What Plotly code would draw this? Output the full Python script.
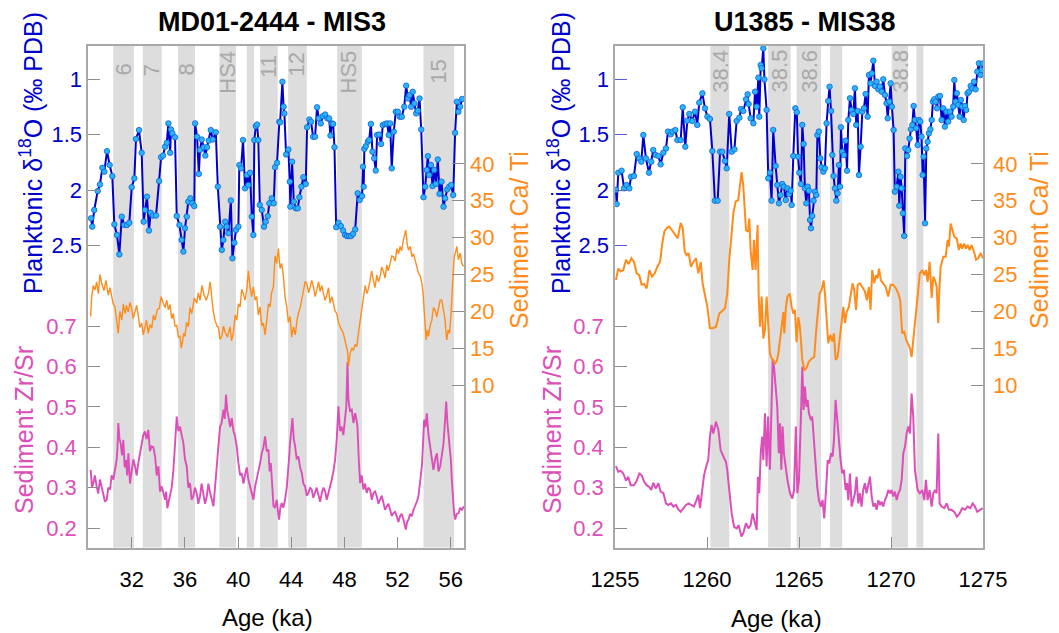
import plotly.graph_objects as go

# ---------------- DATA: MD01-2444 (MIS3) ----------------
L_d18o_age = [28.93,29.02,29.17,29.43,29.6,29.78,29.93,30.13,30.33,30.53,
              30.68,30.88,31.06,31.24,31.43,31.64,31.81,31.99,32.19,32.31,
              32.54,32.74,32.89,32.99,33.14,33.29,33.42,33.59,33.82,34.05,
              34.2,34.35,34.5,34.63,34.75,34.88,34.95,35.05,35.25,35.38,
              35.58,35.75,35.88,36.0,36.13,36.25,36.4,36.55,36.7,36.76,
              36.91,37.04,37.13,37.26,37.41,37.53,37.66,37.79,37.94,38.09,
              38.32,38.47,38.64,38.77,38.89,39.02,39.14,39.27,39.45,39.57,
              39.72,39.84,40.02,40.09,40.22,40.37,40.52,40.65,40.77,40.9,
              41.03,41.15,41.22,41.33,41.43,41.52,41.63,41.78,41.95,42.08,
              42.23,42.35,42.53,42.68,42.78,42.93,43.1,43.16,43.33,43.42,
              43.48,43.61,43.78,43.89,43.93,44.06,44.19,44.34,44.49,44.61,
              44.76,44.91,45.09,45.19,45.36,45.49,45.64,45.79,45.94,46.07,
              46.22,46.37,46.55,46.72,46.85,46.95,47.05,47.15,47.25,47.38,
              47.55,47.73,47.9,48.05,48.2,48.35,48.5,48.65,48.81,49.0,
              49.15,49.33,49.4,49.45,49.5,49.61,49.76,49.86,49.99,50.11,
              50.24,50.36,50.46,50.61,50.76,50.89,51.06,51.21,51.34,51.44,
              51.56,51.71,51.87,52.02,52.17,52.32,52.5,52.65,52.78,52.9,
              53.02,53.14,53.27,53.4,53.52,53.65,53.78,53.95,54.08,54.2,
              54.28,54.38,54.51,54.63,54.76,54.89,55.03,55.16,55.31,55.46,
              55.58,55.73,55.89,56.03,56.19,56.33,56.46,56.58,56.71,56.86]
L_d18o = [2.255,2.33,2.18,2.01,1.95,1.80,1.835,1.65,1.775,1.875,
          2.31,2.405,2.58,2.24,2.315,2.315,2.295,1.975,1.895,1.54,
          1.46,1.665,2.285,2.18,2.06,2.365,2.205,2.23,2.23,1.92,
          1.705,1.69,1.61,1.575,1.40,1.665,1.455,1.49,1.525,2.235,
          2.315,2.45,2.555,2.345,2.24,2.105,2.075,2.12,2.145,1.40,
          1.52,1.855,1.64,1.545,1.615,1.69,1.615,1.555,1.46,1.545,
          1.48,1.97,2.33,2.54,2.45,2.285,2.33,2.39,2.095,2.615,
          2.475,2.36,2.33,1.775,1.805,1.55,1.985,1.865,1.955,1.845,
          2.24,2.405,1.55,1.425,1.41,1.55,2.135,2.18,2.33,2.285,
          2.235,2.12,2.075,2.12,1.795,1.755,1.385,1.39,1.025,1.25,
          1.31,1.68,1.635,1.925,2.15,1.745,2.105,2.165,2.165,2.065,
          1.97,1.885,1.945,1.435,1.365,1.385,1.52,1.52,1.255,1.355,
          1.40,1.335,1.32,1.355,1.355,1.51,1.40,1.405,1.615,2.335,
          2.295,2.325,2.365,2.405,2.415,2.415,2.415,2.395,2.355,2.03,
          2.09,2.055,1.79,1.97,1.63,1.605,1.565,1.55,1.405,1.655,
          1.715,1.825,1.505,1.50,1.585,1.415,1.405,1.40,1.505,1.40,
          1.805,1.475,1.295,1.295,1.34,1.34,1.25,1.06,1.175,1.145,
          1.25,1.115,1.22,1.31,1.285,1.175,1.455,2.065,1.97,1.82,
          1.695,1.865,1.775,1.965,1.82,1.945,1.725,2.035,1.925,2.15,
          2.075,1.995,1.97,1.955,2.045,1.485,1.205,1.295,1.25,1.18]

L_cati_age = [28.90,28.98,29.1,29.23,29.35,29.48,29.6,29.73,29.9,30.06,
              30.15,30.23,30.35,30.48,30.6,30.73,30.85,30.98,31.1,31.24,
              31.36,31.49,31.6,31.73,31.86,31.99,32.1,32.24,32.36,32.49,
              32.6,32.74,32.86,32.99,33.1,33.24,33.37,33.50,33.62,33.75,
              33.9,34.07,34.2,34.37,34.5,34.63,34.75,34.87,35.0,35.12,
              35.25,35.38,35.5,35.63,35.72,35.80,35.9,36.00,36.12,36.25,
              36.38,36.51,36.7,36.89,37.0,37.13,37.28,37.43,37.6,37.76,
              37.9,38.01,38.13,38.26,38.4,38.51,38.64,38.77,38.9,39.02,
              39.2,39.39,39.5,39.64,39.77,39.90,40.02,40.15,40.27,40.39,
              40.52,40.65,40.77,40.90,41.02,41.15,41.28,41.40,41.52,41.65,
              41.78,41.90,42.03,42.16,42.28,42.40,42.52,42.65,42.78,42.91,
              43.03,43.16,43.28,43.41,43.53,43.66,43.78,43.91,44.03,44.16,
              44.3,44.42,44.54,44.66,44.78,44.91,45.04,45.17,45.3,45.42,
              45.54,45.67,45.8,45.92,46.05,46.17,46.3,46.42,46.55,46.67,
              46.8,46.92,47.05,47.17,47.3,47.43,47.55,47.68,47.8,47.92,
              48.05,48.18,48.24,48.30,48.36,48.43,48.55,48.68,48.8,48.93,
              49.05,49.18,49.3,49.43,49.56,49.69,49.8,49.93,50.05,50.18,
              50.3,50.44,50.56,50.69,50.8,50.94,51.06,51.19,51.3,51.44,
              51.56,51.69,51.82,51.95,52.07,52.19,52.3,52.44,52.53,52.62,
              52.72,52.82,52.95,53.08,53.2,53.32,53.45,53.57,53.7,53.83,
              53.92,54.00,54.08,54.15,54.24,54.32,54.45,54.58,54.7,54.83,
              54.95,55.08,55.2,55.33,55.45,55.58,55.65,55.71,55.8,55.91,
              56.0,56.09,56.18,56.26,56.36,56.46,56.58,56.71,56.84,56.96]
L_cati = [19.3,22.0,23.5,22.9,24.0,22.4,25.0,23.8,22.8,24.2,
          23.0,22.2,23.2,21.8,21.0,20.6,18.5,17.0,20.0,18.8,
          21.0,19.7,20.8,19.9,21.2,20.4,19.0,19.9,20.8,19.3,
          17.8,18.4,16.8,17.9,18.8,17.0,18.2,17.7,19.5,18.8,
          20.2,20.4,22.0,21.1,20.5,21.5,20.2,20.9,19.0,19.7,
          18.0,18.1,16.5,16.6,15.0,15.7,17.0,16.6,18.5,17.9,
          20.5,19.7,21.8,21.1,22.5,21.5,23.5,22.2,21.5,22.4,
          24.0,22.0,20.0,18.8,18.0,17.9,16.2,16.6,18.0,17.2,
          16.5,17.9,16.0,17.0,19.5,18.8,21.0,20.6,23.0,22.4,
          21.5,22.9,25.5,23.3,22.0,23.3,21.5,22.0,19.5,20.6,
          18.0,18.4,16.8,18.8,21.0,20.6,22.5,23.3,27.5,26.5,
          28.5,25.8,26.5,24.7,22.0,20.6,18.5,19.3,16.5,17.9,
          16.8,18.6,19.8,20.4,21.5,22.4,24.0,23.8,22.5,23.3,
          24.2,23.3,22.0,22.9,24.0,22.7,23.5,22.4,21.5,22.2,
          23.2,21.1,22.0,21.1,20.0,19.7,18.5,17.9,17.5,17.0,
          16.0,15.2,14.5,12.5,13.5,14.3,15.0,14.7,15.5,15.2,
          17.0,18.8,20.0,21.5,23.5,22.4,23.0,24.2,25.5,24.2,
          23.2,24.9,24.0,24.7,26.0,25.4,24.5,26.3,25.5,26.5,
          27.5,27.4,26.8,28.5,27.8,28.8,28.2,29.7,30.2,31.0,
          29.2,28.3,28.8,27.4,27.8,27.0,26.0,25.2,24.8,23.8,
          22.5,20.6,18.5,16.1,17.5,16.6,18.0,18.8,20.5,20.2,
          19.2,20.6,21.5,21.5,20.0,18.8,17.0,16.1,17.5,17.0,
          19.0,21.5,24.5,27.4,28.0,28.8,27.0,27.9,26.5,26.1]

L_zrsr_age = [28.90,29.00,29.10,29.22,29.35,29.47,29.60,29.72,29.85,29.98,
              30.11,30.23,30.36,30.48,30.61,30.74,30.86,30.92,30.98,31.07,
              31.16,31.26,31.36,31.46,31.56,31.65,31.74,31.86,31.99,32.11,
              32.24,32.36,32.49,32.61,32.74,32.86,32.99,33.11,33.24,33.36,
              33.49,33.62,33.75,33.87,34.00,34.12,34.25,34.37,34.50,34.58,
              34.67,34.77,34.87,35.00,35.13,35.25,35.38,35.50,35.63,35.75,
              35.88,36.00,36.13,36.25,36.38,36.50,36.63,36.75,36.88,37.00,
              37.13,37.25,37.38,37.51,37.64,37.76,37.89,38.01,38.14,38.26,
              38.39,38.51,38.64,38.76,38.89,38.99,39.09,39.18,39.27,39.40,
              39.52,39.65,39.77,39.90,40.02,40.15,40.27,40.40,40.52,40.65,
              40.77,40.90,41.02,41.15,41.28,41.40,41.53,41.65,41.78,41.90,
              42.03,42.15,42.28,42.37,42.46,42.56,42.66,42.78,42.91,43.00,
              43.08,43.18,43.28,43.40,43.53,43.66,43.79,43.85,43.91,44.00,
              44.09,44.19,44.29,44.41,44.54,44.66,44.79,44.91,45.04,45.16,
              45.29,45.41,45.54,45.66,45.79,45.91,46.04,46.17,46.30,46.42,
              46.55,46.67,46.80,46.92,47.05,47.17,47.30,47.42,47.55,47.67,
              47.80,47.92,48.05,48.14,48.23,48.30,48.42,48.55,48.68,48.81,
              48.90,48.98,49.08,49.18,49.30,49.43,49.55,49.68,49.80,49.93,
              50.06,50.19,50.31,50.44,50.56,50.69,50.81,50.94,51.06,51.19,
              51.31,51.44,51.56,51.69,51.81,51.94,52.06,52.19,52.31,52.44,
              52.53,52.62,52.72,52.82,52.95,53.07,53.20,53.32,53.45,53.57,
              53.70,53.83,53.92,54.00,54.10,54.20,54.33,54.45,54.58,54.70,
              54.83,54.96,55.08,55.21,55.33,55.46,55.56,55.66,55.75,55.83,
              55.92,56.01,56.08,56.16,56.25,56.34,56.46,56.59,56.71,56.84,
              57.00]
L_zrsr = [0.344,0.30,0.311,0.33,0.303,0.285,0.32,0.30,0.287,0.265,
          0.27,0.30,0.295,0.33,0.32,0.35,0.369,0.40,0.46,0.42,
          0.41,0.38,0.418,0.35,0.369,0.33,0.385,0.31,0.336,0.37,
          0.353,0.33,0.361,0.385,0.41,0.43,0.439,0.42,0.443,0.39,
          0.402,0.40,0.377,0.33,0.353,0.29,0.303,0.285,0.27,0.29,
          0.249,0.265,0.278,0.30,0.344,0.40,0.476,0.44,0.451,0.43,
          0.41,0.37,0.353,0.30,0.311,0.27,0.278,0.30,0.287,0.26,
          0.278,0.31,0.287,0.26,0.278,0.31,0.287,0.27,0.254,0.30,
          0.344,0.40,0.451,0.46,0.493,0.47,0.53,0.49,0.476,0.45,
          0.472,0.44,0.427,0.40,0.361,0.33,0.336,0.31,0.332,0.35,
          0.32,0.30,0.287,0.27,0.303,0.32,0.344,0.36,0.385,0.40,
          0.427,0.39,0.394,0.34,0.361,0.30,0.254,0.25,0.27,0.24,
          0.221,0.25,0.262,0.25,0.27,0.30,0.344,0.38,0.41,0.44,
          0.472,0.42,0.402,0.37,0.377,0.35,0.336,0.31,0.303,0.28,
          0.287,0.30,0.295,0.275,0.287,0.30,0.282,0.265,0.287,0.30,
          0.291,0.27,0.287,0.30,0.32,0.34,0.369,0.42,0.501,0.44,
          0.451,0.43,0.468,0.50,0.61,0.517,0.49,0.493,0.46,0.484,
          0.47,0.451,0.37,0.311,0.33,0.295,0.31,0.287,0.30,0.295,
          0.27,0.287,0.29,0.278,0.26,0.27,0.28,0.262,0.245,0.254,
          0.26,0.245,0.23,0.237,0.24,0.229,0.215,0.229,0.235,0.221,
          0.21,0.196,0.215,0.221,0.235,0.229,0.245,0.254,0.265,0.278,
          0.31,0.353,0.41,0.468,0.45,0.484,0.43,0.402,0.36,0.344,
          0.37,0.385,0.34,0.353,0.38,0.41,0.46,0.513,0.46,0.435,
          0.40,0.369,0.32,0.27,0.24,0.221,0.235,0.237,0.25,0.245,
          0.254]

# ---------------- DATA: U1385 (MIS38) ----------------
R_d18o_age = [1255.05,1255.09,1255.18,1255.36,1255.49,1255.63,1255.78,1255.87,1256.03,1256.18,
              1256.32,1256.43,1256.54,1256.68,1256.85,1256.97,1257.08,1257.21,1257.36,1257.48,
              1257.63,1257.77,1257.88,1258.03,1258.13,1258.28,1258.39,1258.57,1258.68,1258.82,
              1258.93,1259.04,1259.2,1259.35,1259.47,1259.58,1259.75,1259.89,1260.02,1260.16,
              1260.29,1260.43,1260.58,1260.71,1260.83,1260.98,1261.07,1261.21,1261.34,1261.49,
              1261.61,1261.76,1261.85,1261.97,1262.12,1262.21,1262.26,1262.37,1262.52,1262.61,
              1262.7,1262.79,1262.84,1262.92,1262.97,1263.06,1263.12,1263.24,1263.33,1263.42,
              1263.51,1263.6,1263.73,1263.82,1263.91,1264.0,1264.09,1264.18,1264.28,1264.37,
              1264.46,1264.55,1264.6,1264.69,1264.8,1264.88,1264.95,1265.02,1265.11,1265.18,
              1265.25,1265.32,1265.4,1265.47,1265.54,1265.6,1265.65,1265.72,1265.79,1265.87,
              1265.94,1266.0,1266.08,1266.16,1266.23,1266.32,1266.41,1266.5,1266.59,1266.66,
              1266.74,1266.81,1266.88,1266.95,1267.03,1267.1,1267.17,1267.23,1267.28,1267.35,
              1267.44,1267.53,1267.61,1267.68,1267.77,1267.86,1267.95,1268.04,1268.11,1268.19,
              1268.26,1268.35,1268.44,1268.53,1268.62,1268.73,1268.8,1268.89,1268.96,1269.04,
              1269.13,1269.22,1269.31,1269.4,1269.49,1269.58,1269.67,1269.76,1269.82,1269.91,
              1269.98,1270.05,1270.14,1270.21,1270.31,1270.4,1270.45,1270.52,1270.58,1270.65,
              1270.72,1270.78,1270.87,1270.94,1271.01,1271.08,1271.16,1271.23,1271.3,1271.37,
              1271.45,1271.52,1271.59,1271.66,1271.72,1271.77,1271.85,1271.92,1271.99,1272.06,
              1272.14,1272.21,1272.28,1272.35,1272.42,1272.5,1272.57,1272.66,1272.75,1272.84,
              1272.93,1273.02,1273.11,1273.2,1273.29,1273.38,1273.44,1273.51,1273.58,1273.66,
              1273.73,1273.8,1273.87,1273.95,1274.02,1274.09,1274.16,1274.24,1274.33,1274.42,
              1274.51,1274.6,1274.69,1274.78,1274.87,1274.93,1275.0]
R_d18o = [2.0,2.126,1.844,1.826,1.985,1.955,1.985,1.88,1.874,1.676,
          1.715,1.745,1.505,1.715,1.844,1.745,1.64,1.685,1.694,1.769,
          1.664,1.625,1.474,1.498,1.474,1.46,1.55,1.55,1.255,1.61,
          1.375,1.315,1.378,1.294,1.414,1.213,1.129,1.264,1.339,1.36,
          1.649,2.096,2.096,1.655,1.655,1.739,1.805,1.315,1.655,1.634,
          1.378,1.348,1.27,1.288,1.183,1.138,1.225,1.354,1.399,1.114,
          1.249,0.988,1.339,0.874,0.904,0.724,1.003,1.279,1.895,1.844,
          2.096,1.459,1.784,1.955,2.12,2.045,1.946,1.97,2.09,1.985,
          2.036,2.006,2.135,1.694,1.264,1.30,1.70,1.844,1.946,1.414,
          1.586,1.985,2.12,1.97,2.006,2.27,2.345,2.234,2.096,2.015,
          2.045,1.505,1.474,1.715,1.796,1.835,1.805,1.399,1.198,1.069,
          1.288,1.685,1.874,1.985,2.096,2.03,1.775,1.97,1.435,1.655,
          1.685,1.556,1.826,1.369,1.174,1.279,1.315,1.084,1.414,1.288,
          1.865,1.61,1.294,1.264,1.135,1.339,0.964,1.039,0.949,0.835,
          1.063,1.024,1.093,1.069,1.114,1.003,1.144,1.219,1.354,1.204,
          1.039,1.249,1.459,2.015,1.97,1.835,2.141,1.88,1.985,2.21,
          2.414,1.625,1.694,1.64,1.535,1.453,1.414,1.243,1.369,1.444,
          1.595,1.369,1.384,1.52,1.865,1.70,2.30,1.625,1.565,1.489,
          1.453,1.369,1.204,1.183,1.204,1.264,1.159,1.153,1.369,1.264,
          1.429,1.294,1.384,1.294,1.339,1.249,1.009,1.204,1.129,1.234,
          1.339,1.189,1.249,1.369,1.243,1.279,1.129,1.114,1.063,1.084,
          1.024,1.093,0.934,0.859,0.964,0.919,0.86]

R_cati_age = [1255.05,1255.18,1255.31,1255.45,1255.6,1255.74,1255.89,1256.03,1256.18,1256.32,
              1256.45,1256.58,1256.72,1256.87,1257.01,1257.16,1257.3,1257.45,1257.57,1257.68,
              1257.81,1257.95,1258.1,1258.26,1258.41,1258.57,1258.68,1258.79,1258.89,1259.0,
              1259.13,1259.26,1259.4,1259.53,1259.66,1259.76,1259.89,1260.02,1260.16,1260.31,
              1260.49,1260.67,1260.85,1260.98,1261.1,1261.21,1261.34,1261.43,1261.56,1261.7,
              1261.79,1261.88,1261.97,1262.05,1262.12,1262.23,1262.3,1262.37,1262.48,1262.55,
              1262.64,1262.75,1262.81,1262.88,1262.97,1263.06,1263.15,1263.24,1263.33,1263.42,
              1263.51,1263.6,1263.69,1263.79,1263.88,1263.97,1264.05,1264.15,1264.2,1264.29,
              1264.37,1264.5,1264.6,1264.69,1264.78,1264.87,1264.96,1265.05,1265.18,1265.29,
              1265.41,1265.54,1265.69,1265.83,1265.92,1266.01,1266.12,1266.23,1266.34,1266.41,
              1266.5,1266.59,1266.7,1266.81,1266.9,1266.99,1267.1,1267.21,1267.32,1267.41,
              1267.5,1267.59,1267.71,1267.82,1267.91,1268.0,1268.1,1268.19,1268.31,1268.44,
              1268.58,1268.69,1268.8,1268.89,1268.98,1269.09,1269.18,1269.27,1269.35,1269.45,
              1269.58,1269.71,1269.85,1269.98,1270.12,1270.27,1270.4,1270.5,1270.61,1270.72,
              1270.83,1270.94,1271.03,1271.12,1271.21,1271.34,1271.45,1271.57,1271.7,1271.81,
              1271.9,1271.99,1272.1,1272.21,1272.3,1272.39,1272.48,1272.57,1272.62,1272.7,
              1272.84,1272.97,1273.08,1273.15,1273.24,1273.33,1273.44,1273.57,1273.69,1273.78,
              1273.87,1273.98,1274.07,1274.16,1274.27,1274.38,1274.51,1274.62,1274.74,1274.87,
              1275.0]
R_cati = [24.25,25.8,25.4,25.6,27.0,26.4,27.2,26.7,25.15,24.9,
          23.6,23.7,23.1,25.6,24.7,25.15,26.05,26.7,29.2,30.8,
          31.3,31.5,31.0,30.5,29.9,32.0,31.3,28.1,27.6,27.9,
          26.05,26.7,27.2,25.15,26.7,23.8,22.4,20.6,17.7,17.7,
          17.9,19.7,20.1,20.4,22.4,27.0,30.6,33.3,34.9,35.1,
          37.1,38.9,37.1,33.7,31.0,30.8,32.6,28.3,25.6,29.7,
          25.6,31.7,22.0,17.9,22.0,16.3,17.5,22.0,17.9,14.3,
          13.6,13.4,12.9,13.2,14.3,16.1,17.7,19.9,17.0,20.6,
          22.0,22.4,20.6,19.7,20.2,15.8,19.2,17.9,13.4,12.0,
          12.3,13.2,13.6,13.8,17.0,19.7,22.4,22.9,24.2,22.4,
          19.3,15.65,16.8,15.9,17.0,13.4,13.8,16.1,18.6,20.6,
          18.4,19.9,20.6,22.4,23.8,22.9,20.2,23.6,23.8,23.3,
          22.7,21.5,23.3,20.2,25.6,23.8,24.9,24.5,25.8,24.2,
          23.8,23.3,22.0,23.6,23.6,23.1,22.4,21.5,17.0,17.2,
          16.1,15.4,15.0,13.8,16.1,19.7,22.4,25.15,25.6,24.9,
          25.6,24.0,26.7,21.8,24.7,24.2,23.3,18.4,22.7,26.05,
          27.4,27.4,29.7,28.8,31.9,31.0,30.1,29.9,28.3,29.2,
          28.5,29.2,28.5,29.0,28.3,29.0,28.1,27.0,27.2,27.9,
          27.2]

R_zrsr_age = [1255.05,1255.18,1255.31,1255.45,1255.6,1255.72,1255.85,1256.03,1256.18,1256.32,
              1256.45,1256.58,1256.72,1256.87,1256.97,1257.08,1257.21,1257.36,1257.48,1257.63,
              1257.77,1257.9,1258.04,1258.17,1258.32,1258.44,1258.57,1258.71,1258.86,1259.0,
              1259.17,1259.29,1259.4,1259.53,1259.62,1259.71,1259.84,1259.98,1260.07,1260.16,
              1260.25,1260.34,1260.49,1260.62,1260.74,1260.89,1261.03,1261.1,1261.21,1261.34,
              1261.47,1261.61,1261.72,1261.87,1261.97,1262.12,1262.25,1262.37,1262.48,1262.59,
              1262.7,1262.77,1262.84,1262.92,1263.0,1263.06,1263.15,1263.24,1263.32,1263.42,
              1263.51,1263.57,1263.64,1263.73,1263.82,1263.9,1263.97,1264.04,1264.11,1264.18,
              1264.28,1264.37,1264.51,1264.64,1264.73,1264.83,1264.91,1265.0,1265.11,1265.18,
              1265.25,1265.32,1265.4,1265.47,1265.54,1265.65,1265.72,1265.81,1265.9,1265.99,
              1266.08,1266.19,1266.28,1266.37,1266.46,1266.56,1266.65,1266.74,1266.83,1266.9,
              1266.99,1267.08,1267.17,1267.26,1267.35,1267.44,1267.53,1267.61,1267.68,1267.77,
              1267.86,1267.95,1268.04,1268.13,1268.22,1268.31,1268.4,1268.49,1268.58,1268.67,
              1268.77,1268.86,1268.95,1269.04,1269.13,1269.22,1269.31,1269.4,1269.49,1269.58,
              1269.67,1269.76,1269.85,1269.94,1270.03,1270.12,1270.21,1270.31,1270.4,1270.49,
              1270.58,1270.67,1270.76,1270.85,1270.94,1271.03,1271.12,1271.21,1271.3,1271.45,
              1271.57,1271.7,1271.81,1271.9,1271.99,1272.1,1272.21,1272.3,1272.39,1272.48,
              1272.57,1272.64,1272.75,1272.9,1273.02,1273.15,1273.29,1273.44,1273.58,1273.73,
              1273.87,1274.02,1274.16,1274.31,1274.44,1274.56,1274.69,1274.83,1274.98]
R_zrsr = [0.353,0.339,0.342,0.335,0.317,0.327,0.306,0.306,0.317,0.335,
          0.331,0.315,0.306,0.301,0.294,0.312,0.298,0.311,0.29,0.286,
          0.261,0.257,0.261,0.253,0.257,0.246,0.24,0.249,0.257,0.261,
          0.257,0.253,0.265,0.282,0.249,0.282,0.331,0.356,0.368,0.426,
          0.455,0.434,0.463,0.443,0.393,0.377,0.364,0.344,0.286,0.236,
          0.203,0.199,0.207,0.179,0.187,0.212,0.199,0.207,0.236,0.216,
          0.195,0.327,0.286,0.385,0.426,0.368,0.484,0.352,0.476,0.344,
          0.5,0.616,0.6,0.55,0.5,0.385,0.459,0.344,0.451,0.385,
          0.344,0.319,0.286,0.273,0.294,0.451,0.286,0.319,0.484,0.599,
          0.492,0.55,0.5,0.517,0.484,0.467,0.476,0.418,0.352,0.302,
          0.269,0.253,0.269,0.224,0.286,0.368,0.36,0.385,0.377,0.418,
          0.517,0.467,0.41,0.368,0.335,0.344,0.294,0.311,0.269,0.335,
          0.253,0.269,0.286,0.327,0.261,0.286,0.253,0.294,0.311,0.286,
          0.311,0.327,0.278,0.253,0.261,0.245,0.269,0.257,0.265,0.253,
          0.269,0.278,0.294,0.286,0.294,0.278,0.29,0.269,0.286,0.294,
          0.319,0.385,0.401,0.434,0.451,0.434,0.533,0.476,0.344,0.294,
          0.286,0.294,0.269,0.319,0.269,0.294,0.253,0.286,0.294,0.286,
          0.434,0.261,0.253,0.249,0.261,0.245,0.245,0.24,0.228,0.236,
          0.249,0.245,0.253,0.249,0.261,0.253,0.24,0.245,0.249]

# Shaded intervals (ka) and their labels
L_band_start = [30.6, 32.82, 35.48, 38.59, 40.65, 41.65, 43.76, 47.45, 53.95]
L_band_end   = [32.15, 34.25, 36.76, 39.84, 41.2, 42.98, 45.17, 49.31, 56.26]
L_band_label = ["6", "7", "8", "HS4", "", "11", "12", "HS5", "15"]
R_band_start = [1260.18, 1263.32, 1264.87, 1266.68, 1270.03, 1271.38]
R_band_end   = [1261.21, 1264.55, 1266.2, 1267.35, 1270.92, 1271.76]
R_band_label = ["38.4", "38.5", "38.6", "", "38.8", ""]

# Tick values / labels
X_L_ticks = [32, 36, 40, 44, 48, 52, 56]
X_R_ticks = [1255, 1260, 1265, 1270, 1275]
D18O_ticks = [1, 1.5, 2, 2.5]
D18O_ticktext = ["1", "1.5", "2", "2.5"]
ZRSR_ticks = [0.2, 0.3, 0.4, 0.5, 0.6, 0.7]
ZRSR_ticktext = ["0.2", "0.3", "0.4", "0.5", "0.6", "0.7"]
CATI_ticks = [10, 15, 20, 25, 30, 35, 40]

assert len(L_d18o_age) == len(L_d18o)
assert len(L_cati_age) == len(L_cati)
assert len(L_zrsr_age) == len(L_zrsr)
assert len(R_d18o_age) == len(R_d18o)
assert len(R_cati_age) == len(R_cati)
assert len(R_zrsr_age) == len(R_zrsr)

# ---------------- STYLE ----------------
W, H = 1059, 633
BLUE = "#0000d0"
BLUE_TXT = "#0000cc"
MARK = "#2ab4f7"
ORANGE = "#ff8c1a"
PINK = "#dc4fb9"
BAND = "#dcdddc"
FRAME = "#a8a8a8"
TICKC = "#8c8c8c"
FONT = "Liberation Sans, Arial, sans-serif"

def fx(p):
    return p / W

def fy(p):
    return 1 - p / H

TOP, BOT = 46, 547.5
YDOM = [fy(BOT), fy(TOP)]
XDOM_L = [fx(88), fx(464)]
XDOM_R = [fx(615), fx(983)]

D18O_RANGE = [1 + (BOT - 79) / 111.0, 1 + (TOP - 79) / 111.0]
ZRSR_RANGE = [0.2 - (BOT - 528) / 404.0, 0.2 + (528 - TOP) / 404.0]
CATI_RANGE = [10 - (BOT - 385) / 7.37, 10 + (385 - TOP) / 7.37]

fig = go.Figure()

def add_panel(xa, y_zr, y_ca, y_d, zr_x, zr_y, ca_x, ca_y, d_x, d_y, zr_w, ca_w):
    fig.add_trace(go.Scatter(x=zr_x, y=zr_y, xaxis=xa, yaxis=y_zr, mode="lines",
                             line=dict(color=PINK, width=zr_w), showlegend=False,
                             hoverinfo="skip"))
    fig.add_trace(go.Scatter(x=ca_x, y=ca_y, xaxis=xa, yaxis=y_ca, mode="lines",
                             line=dict(color=ORANGE, width=ca_w), showlegend=False,
                             hoverinfo="skip"))
    fig.add_trace(go.Scatter(x=d_x, y=d_y, xaxis=xa, yaxis=y_d, mode="lines+markers",
                             line=dict(color=BLUE, width=2),
                             marker=dict(size=5.5, color=MARK,
                                         line=dict(color="#1060d8", width=0.8)),
                             showlegend=False, hoverinfo="skip"))

add_panel("x", "y", "y3", "y5", L_zrsr_age, L_zrsr, L_cati_age, L_cati,
          L_d18o_age, L_d18o, 1.9, 1.4)
add_panel("x2", "y2", "y4", "y6", R_zrsr_age, R_zrsr, R_cati_age, R_cati,
          R_d18o_age, R_d18o, 2.0, 2.0)

def tickfont(c):
    return dict(family=FONT, size=22, color=c)

def xaxis_cfg(dom, rng, ticks, anchor):
    return dict(domain=dom, range=rng, anchor=anchor, tickvals=ticks, automargin=False,
                ticks="inside", ticklen=11, tickwidth=1.3, tickcolor=TICKC,
                showline=True, mirror=True, linecolor=FRAME, linewidth=1.6,
                showgrid=False, zeroline=False, tickfont=tickfont("#000000"),
                ticklabelstandoff=11)

def zr_cfg(anchor):
    return dict(domain=YDOM, range=ZRSR_RANGE, anchor=anchor, side="left", automargin=False,
                tickvals=ZRSR_ticks, ticktext=ZRSR_ticktext,
                ticks="inside", ticklen=12, tickwidth=1.3, tickcolor=TICKC,
                showline=True, mirror=True, linecolor=FRAME, linewidth=1.6,
                showgrid=False, zeroline=False, tickfont=tickfont(PINK),
                ticklabelstandoff=5)

def ca_cfg(anchor, over, standoff):
    return dict(range=CATI_RANGE, anchor=anchor, overlaying=over, side="right",
                automargin=False,
                tickvals=CATI_ticks, ticks="inside", ticklen=12, tickwidth=1.3,
                tickcolor=TICKC, showline=False, showgrid=False, zeroline=False,
                tickfont=tickfont(ORANGE), ticklabelstandoff=standoff)

def d_cfg(anchor, over, tc, tw):
    return dict(range=D18O_RANGE, anchor=anchor, overlaying=over, side="left",
                automargin=False,
                tickvals=D18O_ticks, ticktext=D18O_ticktext, ticks="inside",
                ticklen=12, tickwidth=tw, tickcolor=tc, showline=False,
                showgrid=False, zeroline=False, tickfont=tickfont(BLUE_TXT),
                ticklabelstandoff=5)

fig.update_layout(
    width=W, height=H, autosize=False,
    margin=dict(l=0, r=0, t=0, b=0, pad=0, autoexpand=False),
    paper_bgcolor="white", plot_bgcolor="white",
    font=dict(family=FONT),
    xaxis=xaxis_cfg(XDOM_L, [28.7, 57.0], X_L_ticks, "y"),
    xaxis2=xaxis_cfg(XDOM_R, [1255, 1275], X_R_ticks, "y2"),
    yaxis=zr_cfg("x"),
    yaxis2=zr_cfg("x2"),
    yaxis3=ca_cfg("x", "y", 5),
    yaxis4=ca_cfg("x2", "y2", 9),
    yaxis5=d_cfg("x", "y", TICKC, 1.3),
    yaxis6=d_cfg("x2", "y2", "#5a5ae0", 1.0),
)

shapes = []
ann = []
L_label_centers = [70, 70, 70, 72, 70, 66, 64, 72, 72]
for s, e, lab, yc in zip(L_band_start, L_band_end, L_band_label, L_label_centers):
    shapes.append(dict(type="rect", xref="x", yref="paper", x0=s, x1=e,
                       y0=YDOM[0], y1=YDOM[1], fillcolor=BAND, line=dict(width=0),
                       layer="below"))
    if lab:
        ann.append(dict(x=(s + e) / 2, xref="x", y=fy(yc), yref="paper", text=lab,
                        textangle=-90, showarrow=False, xanchor="center", yanchor="middle",
                        font=dict(family=FONT, size=22, color="#a9a9a9")))
for s, e, lab in zip(R_band_start, R_band_end, R_band_label):
    shapes.append(dict(type="rect", xref="x2", yref="paper", x0=s, x1=e,
                       y0=YDOM[0], y1=YDOM[1], fillcolor=BAND, line=dict(width=0),
                       layer="below"))
    if lab:
        ann.append(dict(x=(s + e) / 2, xref="x2", y=fy(71), yref="paper", text=lab,
                        textangle=-90, showarrow=False, xanchor="center", yanchor="middle",
                        font=dict(family=FONT, size=22, color="#a9a9a9")))

def txt(x, y, text, size, color, angle=0, bold=False):
    ann.append(dict(x=fx(x), y=fy(y), xref="paper", yref="paper", text=text,
                    textangle=angle, showarrow=False, xanchor="center", yanchor="middle",
                    font=dict(family=FONT, size=size, color=color,
                              weight="bold" if bold else "normal")))

# titles
txt(272, 22, "MD01-2444 - MIS3", 27, "#000000", bold=True)
txt(805, 22, "U1385 - MIS38", 27, "#000000", bold=True)
# x axis titles
txt(267, 617, "Age (ka)", 24, "#000000")
txt(776, 618, "Age (ka)", 24, "#000000")
# y axis titles
for off in (0, 528):
    txt(31 + off, 153, "Planktonic δ<sup>18</sup>O (‰ PDB)", 25, BLUE_TXT, angle=-90)
    txt(24 + off, 430, "Sediment Zr/Sr", 25, PINK, angle=-90)
txt(519, 240, "Sediment Ca/ Ti", 25, ORANGE, angle=-90)
txt(1039, 240, "Sediment Ca/ Ti", 25, ORANGE, angle=-90)

fig.update_layout(shapes=shapes, annotations=ann)
fig.write_html("out.html")
